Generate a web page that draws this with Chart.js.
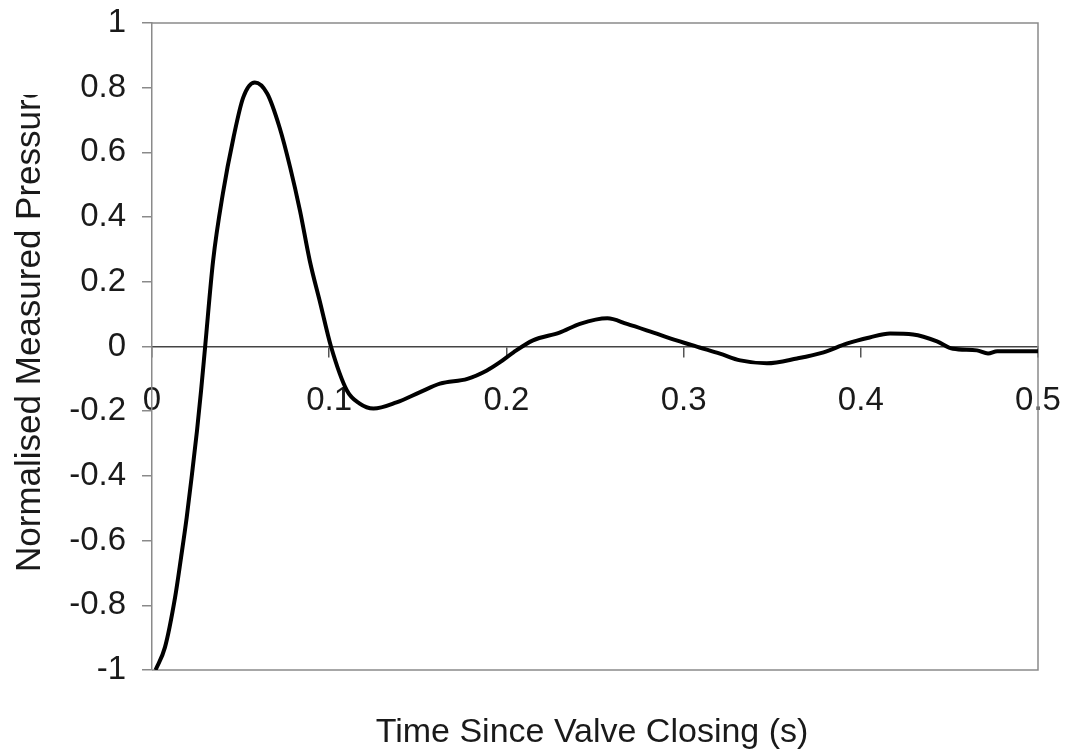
<!DOCTYPE html>
<html>
<head>
<meta charset="utf-8">
<script src="https://cdn.jsdelivr.net/npm/chart.js@4/dist/chart.umd.min.js"></script>
<style>
    body { margin: 0; background: #fff; }
    #wrap { width: 1066px; height: 751px; }
</style>
</head>
<body>
<div id="wrap"><canvas id="pressureChart" width="1066" height="751"></canvas></div>
<script>
// Data
const timeValues = [0.002, 0.0073, 0.013, 0.0164, 0.0196, 0.0226, 0.0254, 0.0277, 0.030, 0.0345,
    0.040, 0.046, 0.0515, 0.058, 0.065, 0.072, 0.078, 0.0835, 0.089, 0.095,
    0.101, 0.110, 0.117, 0.125, 0.138, 0.151, 0.1625, 0.178, 0.189, 0.196,
    0.204, 0.215, 0.230, 0.2415, 0.257, 0.268, 0.283, 0.296, 0.309, 0.3205,
    0.332, 0.347, 0.364, 0.379, 0.392, 0.405, 0.4165, 0.4295, 0.443, 0.452,
    0.4655, 0.4718, 0.477, 0.5];
const pressureValues = [-1.0, -0.93, -0.776, -0.652, -0.528, -0.393, -0.26, -0.136, 0.0, 0.266,
    0.473, 0.646, 0.77, 0.816, 0.782, 0.677, 0.553, 0.42, 0.266, 0.133,
    0.0, -0.136, -0.176, -0.192, -0.173, -0.142, -0.115, -0.1, -0.074, -0.05,
    -0.018, 0.019, 0.043, 0.07, 0.087, 0.07, 0.043, 0.019, -0.003, -0.022,
    -0.043, -0.052, -0.037, -0.018, 0.009, 0.028, 0.04, 0.037, 0.016, -0.007,
    -0.012, -0.022, -0.015, -0.015];
const xTicks = [0, 0.1, 0.2, 0.3, 0.4, 0.5];
const yTicks = [-1, -0.8, -0.6, -0.4, -0.2, 0, 0.2, 0.4, 0.6, 0.8, 1];

const xTitle = 'Time Since Valve Closing (s)';
const yTitle = 'Normalised Measured Pressure';

const fontFamily = '"Liberation Sans", Arial, sans-serif';
const points = timeValues.map((t, i) => ({ x: t, y: pressureValues[i] }));

// Plot frame + axis titles
const framePlugin = {
    id: 'frame',
    beforeDatasetsDraw(chart) {
        const { ctx, chartArea: a } = chart;
        ctx.save();
        ctx.strokeStyle = '#8a8a8a';
        ctx.lineWidth = 1.5;
        ctx.beginPath();
        ctx.moveTo(a.left, a.top);
        ctx.lineTo(a.right, a.top);
        ctx.lineTo(a.right, a.bottom);
        ctx.lineTo(a.left, a.bottom);
        ctx.stroke();
        ctx.restore();
    },
    afterDraw(chart) {
        const { ctx } = chart;
        ctx.save();
        ctx.fillStyle = '#1a1a1a';
        ctx.font = '34px ' + fontFamily;
        ctx.textAlign = 'center';
        ctx.textBaseline = 'alphabetic';
        ctx.fillText(xTitle, 592, 742);

        // y title is cut off at the top in the original
        ctx.font = '35px ' + fontFamily;
        ctx.beginPath();
        ctx.rect(0, 95, 80, 656);
        ctx.clip();
        ctx.translate(40, 572);
        ctx.rotate(-Math.PI / 2);
        ctx.textAlign = 'left';
        ctx.fillText(yTitle, 0, 0);
        ctx.restore();
    }
};

new Chart(document.getElementById('pressureChart'), {
    type: 'line',
    data: {
        datasets: [{
            data: points,
            borderColor: '#000',
            borderWidth: 4,
            pointRadius: 0,
            fill: false,
            cubicInterpolationMode: 'monotone'
        }]
    },
    options: {
        responsive: false,
        animation: false,
        layout: { padding: { top: 23, right: 28, bottom: 81, left: 0 } },
        plugins: { legend: { display: false }, tooltip: { enabled: false } },
        scales: {
            x: {
                type: 'linear',
                position: { y: 0 },
                min: 0,
                max: 0.5,
                afterBuildTicks: scale => { scale.ticks = xTicks.map(v => ({ value: v })); },
                afterFit: scale => { scale.paddingLeft = 0; scale.paddingRight = 0; },
                grid: { drawOnChartArea: false, tickLength: 10, color: '#555', lineWidth: 1.5 },
                border: { display: true, color: '#444', width: 1.5 },
                ticks: {
                    padding: 25,
                    color: '#1a1a1a',
                    font: { size: 33, family: fontFamily },
                    maxRotation: 0,
                    callback: v => String(v)
                }
            },
            y: {
                type: 'linear',
                min: -1,
                max: 1,
                afterBuildTicks: scale => { scale.ticks = yTicks.map(v => ({ value: v })); },
                afterFit: scale => { scale.width = 152; scale.paddingTop = 0; scale.paddingBottom = 0; },
                grid: { drawOnChartArea: false, tickLength: 10, color: '#8a8a8a', lineWidth: 1.5 },
                border: { display: true, color: '#8a8a8a', width: 1.5 },
                ticks: {
                    padding: 16,
                    color: '#1a1a1a',
                    font: { size: 33, family: fontFamily },
                    callback: v => String(Math.round(v * 10) / 10)
                }
            }
        }
    },
    plugins: [framePlugin]
});
</script>
</body>
</html>
